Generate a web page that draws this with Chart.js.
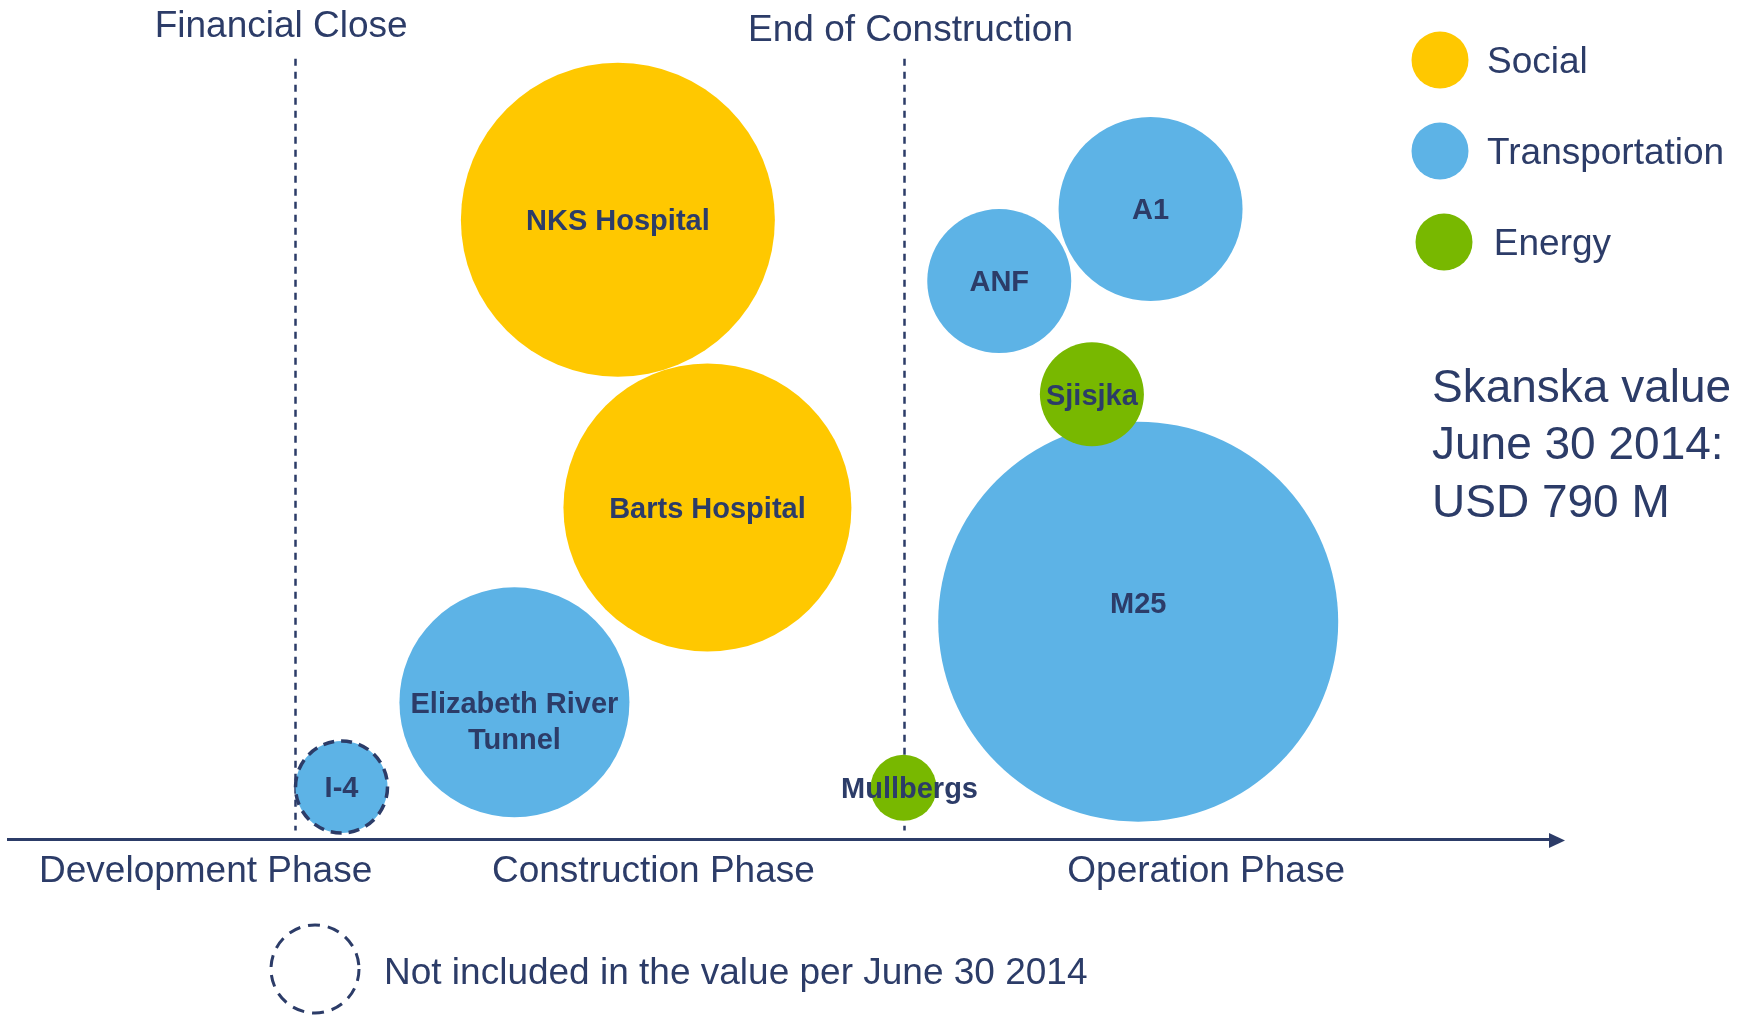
<!DOCTYPE html>
<html>
<head>
<meta charset="utf-8">
<title>Skanska value June 30 2014</title>
<script src="https://cdn.jsdelivr.net/npm/chart.js@4.4.1/dist/chart.umd.min.js"></script>
<style>
  html, body { margin: 0; padding: 0; background: #fff; }
  canvas { display: block; }
</style>
</head>
<body>
<canvas id="projects" width="1763" height="1015"></canvas>
<script>
// one entry per project bubble
var projects  = ['NKS Hospital', 'Barts Hospital', 'Elizabeth River\nTunnel', 'I-4', 'Mullbergs', 'ANF', 'A1', 'Sjisjka', 'M25'];
var sectors   = ['Social', 'Social', 'Transportation', 'Transportation', 'Energy', 'Transportation', 'Transportation', 'Energy', 'Transportation'];
// where the project sits in its life cycle (0-100) and how high it is stacked
var lifecycle = [39.5, 45.3, 32.8, 21.6, 58.0, 64.2, 74.0, 70.2, 73.2];
var stacking  = [73.8, 39.5, 16.3, 6.2, 6.1, 66.5, 75.1, 53.0, 25.9];
// bubble radius (px), scaled to project value
var radius    = [157, 144, 115, 46, 33, 72, 92, 52, 200];
var notIncluded = ['I-4'];

var sectorNames  = ['Social', 'Transportation', 'Energy'];
var sectorColors = ['#FFC800', '#5DB3E6', '#78B800'];
var drawOrder    = [1, 2, 0];

var phases       = ['Development Phase', 'Construction Phase', 'Operation Phase'];
var phaseCenters = [12.8, 41.8, 77.6];
var milestones   = ['Financial Close', 'End of Construction'];
var milestonePos = [18.6, 58.0];

var valueText = ['Skanska value', 'June 30 2014:', 'USD 790 M'];
var noteText  = 'Not included in the value per June 30 2014';

var navy = '#2C3C68';
var family = '"Liberation Sans", Arial, Helvetica, sans-serif';

// hand placement of a few text boxes (px)
var milestoneTextShift = [[-14, 37], [7, 41]];
var bubbleTextShift = { 'Mullbergs': [6, 0], 'M25': [0, -19] };

var datasets = sectorNames.map(function (name, s) {
  var points = [];
  projects.forEach(function (p, i) {
    if (sectors[i] === name) {
      points.push({ x: lifecycle[i], y: stacking[i], r: radius[i], project: p });
    }
  });
  return {
    label: name,
    data: points,
    backgroundColor: sectorColors[s],
    borderColor: navy,
    borderWidth: function (c) {
      return c.raw && notIncluded.indexOf(c.raw.project) >= 0 ? 3.5 : 0;
    },
    order: drawOrder[s],
    clip: false
  };
});

var overlay = {
  id: 'overlay',
  beforeDatasetsDraw: function (chart) {
    var ctx = chart.ctx, x = chart.scales.x, y = chart.scales.y;
    var a = chart.chartArea;
    ctx.save();
    // milestone lines
    ctx.strokeStyle = navy;
    ctx.lineWidth = 2.5;
    ctx.setLineDash([7, 6]);
    milestonePos.forEach(function (m) {
      var px = Math.round(x.getPixelForValue(m)) + 0.5;
      ctx.beginPath();
      ctx.moveTo(px, y.getPixelForValue(93));
      ctx.lineTo(px, y.getPixelForValue(1));
      ctx.stroke();
    });
    ctx.setLineDash([]);
    ctx.fillStyle = navy;
    ctx.font = '37px ' + family;
    ctx.textAlign = 'center';
    ctx.textBaseline = 'alphabetic';
    milestones.forEach(function (m, i) {
      var s = milestoneTextShift[i];
      ctx.fillText(m, x.getPixelForValue(milestonePos[i]) + s[0], s[1]);
    });
    // phase names under the time axis
    phases.forEach(function (p, i) {
      ctx.fillText(p, x.getPixelForValue(phaseCenters[i]), a.bottom + 43);
    });
    // arrow head at the end of the time axis
    ctx.beginPath();
    ctx.moveTo(a.right - 3, a.bottom + 1.5 - 7.5);
    ctx.lineTo(a.right + 13, a.bottom + 1.5);
    ctx.lineTo(a.right - 3, a.bottom + 1.5 + 7.5);
    ctx.closePath();
    ctx.fill();
    ctx.restore();
  },
  beforeDatasetDraw: function (chart) {
    chart.ctx.setLineDash([11, 7]);
  },
  afterDatasetDraw: function (chart) {
    chart.ctx.setLineDash([]);
  },
  afterDatasetsDraw: function (chart) {
    var ctx = chart.ctx;
    ctx.save();
    ctx.fillStyle = navy;
    ctx.textAlign = 'center';
    ctx.textBaseline = 'alphabetic';
    ctx.font = 'bold 29px ' + family;
    chart.data.datasets.forEach(function (ds, d) {
      chart.getDatasetMeta(d).data.forEach(function (el, i) {
        var name = ds.data[i].project;
        var s = bubbleTextShift[name] || [0, 0];
        name.split('\n').forEach(function (t, k) {
          ctx.fillText(t, el.x + s[0], el.y + s[1] + 10.4 + k * 36);
        });
      });
    });

    // sector key
    ctx.textAlign = 'left';
    ctx.font = '37px ' + family;
    sectorNames.forEach(function (name, i) {
      var cy = 60 + i * 91;
      var dx = i === 2 ? 4 : 0;
      ctx.fillStyle = sectorColors[i];
      ctx.beginPath();
      ctx.arc(1440 + dx, cy, 28.5, 0, Math.PI * 2);
      ctx.fill();
      ctx.fillStyle = navy;
      ctx.fillText(name, 1487 + dx * 1.7, cy + 13);
    });

    // portfolio value
    ctx.font = '46px ' + family;
    valueText.forEach(function (t, i) {
      ctx.fillText(t, 1432, 401.5 + i * 57.5);
    });

    // dashed ring key
    ctx.strokeStyle = navy;
    ctx.lineWidth = 3;
    ctx.setLineDash([12, 8]);
    ctx.beginPath();
    ctx.arc(315, 969, 44, 0, Math.PI * 2);
    ctx.stroke();
    ctx.setLineDash([]);
    ctx.font = '37px ' + family;
    ctx.fillText(noteText, 384, 984);
    ctx.restore();
  }
};

var chart = new Chart(document.getElementById('projects'), {
  type: 'bubble',
  data: { datasets: datasets },
  options: {
    responsive: false,
    animation: false,
    events: [],
    layout: { autoPadding: false, padding: { left: 8, right: 211, top: 0, bottom: 176 } },
    plugins: {
      legend: { display: false },
      tooltip: { enabled: false }
    },
    scales: {
      x: {
        type: 'linear',
        min: 0,
        max: 100,
        grid: { display: false, drawTicks: false },
        border: { display: true, color: navy, width: 3 },
        ticks: { display: false }
      },
      y: { type: 'linear', display: false, min: 0, max: 100 }
    }
  },
  plugins: [overlay]
});
</script>
</body>
</html>
